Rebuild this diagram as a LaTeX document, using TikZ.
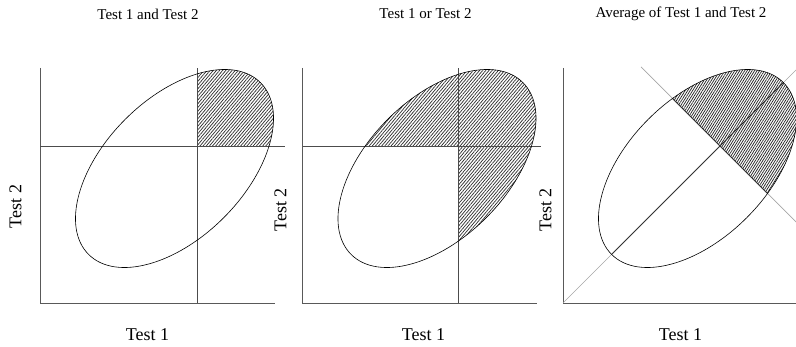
\documentclass[tikz,border=0pt]{standalone}
\usepackage{fontspec}
\setmainfont{Liberation Serif}
\usetikzlibrary{patterns.meta}
\tikzset{
  axis/.style={draw=black!65, line width=0.9pt},
  cut/.style={draw=black!70, line width=0.8pt},
  faint/.style={draw=black!35, line width=0.7pt},
  inner/.style={draw=black!80, line width=0.8pt},
  ell/.style={draw=black, line width=0.6pt},
  hatch/.style={pattern={Lines[angle=50, distance=2.4pt, line width=0.75pt]}, pattern color=black!80},
  hatchb/.style={pattern={Lines[angle=58, distance=2.1pt, line width=0.75pt]}, pattern color=black!85},
  title/.style={font=\fontsize{15}{17}\selectfont, inner sep=0pt},
  lab/.style={font=\fontsize{18}{20}\selectfont, inner sep=0pt},
}
\begin{document}
\begin{tikzpicture}[x=1pt,y=1pt]
\useasboundingbox (0,0) rectangle (796,347);
% ---------- Panel 1 ----------
\begin{scope}[shift={(40,44)}]
  \coordinate (o1) at (0,0);
  \coordinate (ty1) at (0,235);
  \coordinate (tx1) at (235,0);
  \coordinate (cvb1) at (157,0);
  \coordinate (cvt1) at (157,235);
  \coordinate (chl1) at (0,157);
  \coordinate (chr1) at (245,157);
  \begin{scope}
    \clip (157,157) rectangle (300,300);
    \fill[hatch] (134.5,134.5) ellipse[x radius=121.5, y radius=69.6, rotate=45];
  \end{scope}
  \draw[axis] (ty1) -- (o1) -- (tx1);
  \draw[cut] (cvb1) -- (cvt1);
  \draw[cut] (chl1) -- (chr1);
  \draw[ell] (134.5,134.5) ellipse[x radius=121.5, y radius=69.6, rotate=45];
\end{scope}
% ---------- Panel 2 ----------
\begin{scope}[shift={(302.5,44)}]
  \coordinate (o2) at (0,0);
  \coordinate (ty2) at (0,235);
  \coordinate (tx2) at (234,0);
  \coordinate (cvb2) at (156,0);
  \coordinate (cvt2) at (156,235);
  \coordinate (chl2) at (0,157);
  \coordinate (chr2) at (238,157);
  \begin{scope}
    \clip (134.5,134.5) ellipse[x radius=121.5, y radius=69.6, rotate=45];
    \fill[hatch] (0,157) -- (156,157) -- (156,0) -- (300,0) -- (300,300) -- (0,300) -- cycle;
  \end{scope}
  \draw[axis] (ty2) -- (o2) -- (tx2);
  \draw[cut] (cvb2) -- (cvt2);
  \draw[cut] (chl2) -- (chr2);
  \draw[ell] (134.5,134.5) ellipse[x radius=121.5, y radius=69.6, rotate=45];
\end{scope}
% ---------- Panel 3 ----------
\begin{scope}[shift={(563,44)}]
  \coordinate (o3) at (0,0);
  \coordinate (ty3) at (0,235);
  \coordinate (tx3) at (235,0);
  \coordinate (dg3) at (235,235);
  \coordinate (al3) at (78,236);
  \coordinate (ar3) at (235,79);
  \begin{scope}
    \clip (134.5,134.5) ellipse[x radius=121.5, y radius=69.6, rotate=45];
    \fill[hatchb] (-100,414) -- (414,-100) -- (500,500) -- cycle;
  \end{scope}
  \draw[axis] (ty3) -- (o3) -- (tx3);
  \draw[faint] (o3) -- (dg3);
  \draw[faint] (al3) -- (ar3);
  \begin{scope}
    \clip (134.5,134.5) ellipse[x radius=121.5, y radius=69.6, rotate=45];
    \draw[inner] (o3) -- (dg3);
    \draw[inner] (al3) -- (ar3);
  \end{scope}
  \draw[ell] (134.5,134.5) ellipse[x radius=121.5, y radius=69.6, rotate=45];
\end{scope}
% ---------- Labels ----------
\node[title] (t1) at (148,333) {Test 1 and Test 2};
\node[title] (t2) at (425.5,333) {Test 1 or Test 2};
\node[title] (t3) at (681,333) {Average of Test 1 and Test 2};
\node[lab] (x1) at (147.5,12) {Test 1};
\node[lab] (x2) at (423.5,12) {Test 1};
\node[lab] (x3) at (680.5,12) {Test 1};
\node[lab, rotate=90] (y1) at (15.5,140.5) {Test 2};
\node[lab, rotate=90] (y2) at (280.5,137) {Test 2};
\node[lab, rotate=90] (y3) at (545.5,137) {Test 2};
\end{tikzpicture}
\end{document}
